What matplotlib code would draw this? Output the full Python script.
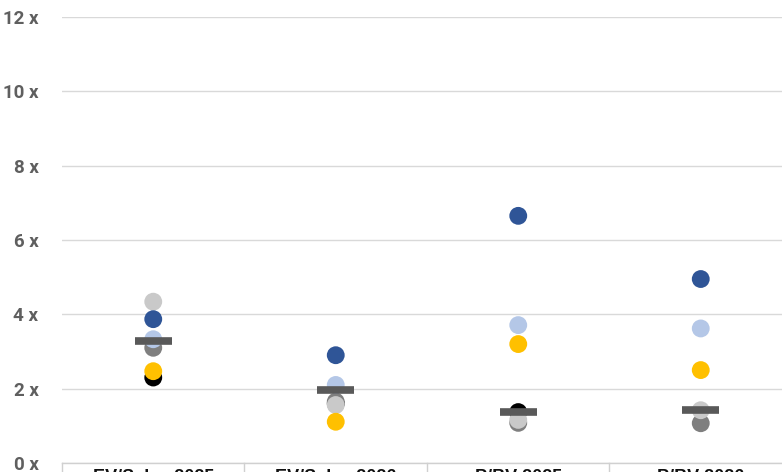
import matplotlib
matplotlib.use("Agg")
import matplotlib.pyplot as plt
import numpy as np

# Categories and peer multiples
categories = ["EV/Sales 2025", "EV/Sales 2026", "P/BV 2025", "P/BV 2026"]

black_vals = [2.30, 1.60, 1.37, np.nan]
dark_grey_vals = [3.10, 1.65, 1.08, 1.07]
light_grey_vals = [4.34, 1.56, 1.16, 1.42]
yellow_vals = [2.47, 1.11, 3.20, 2.50]
light_blue_vals = [3.33, 2.10, 3.71, 3.62]
dark_blue_vals = [3.87, 2.90, 6.65, 4.95]
median_vals = [3.27, 1.97, 1.36, 1.42]

series = [
    (black_vals, "#000000"),
    (dark_grey_vals, "#7f7f7f"),
    (light_grey_vals, "#c9c9c9"),
    (yellow_vals, "#ffc000"),
    (light_blue_vals, "#b4c7e7"),
    (dark_blue_vals, "#2f5597"),
]

fig = plt.figure(figsize=(7.82, 4.72), dpi=100)
ax = fig.add_axes([62 / 782, 9 / 472, 730 / 782, 446 / 472])

x = np.arange(len(categories)) + 0.5

for vals, color in series:
    ax.scatter(x, vals, s=165, color=color, edgecolors="none", zorder=3)

# median bars
ax.hlines(median_vals, x - 0.1, x + 0.1, colors="#595959", linewidth=5.5, zorder=4)

ax.set_xlim(0, len(categories))
ax.set_ylim(0, 12)
ax.set_yticks(range(0, 13, 2))
ax.set_yticklabels([f"{v} x" for v in range(0, 13, 2)])
ax.tick_params(axis="y", length=0, pad=17, labelsize=13.5, labelcolor="#5f5f5f")
for lbl in ax.get_yticklabels():
    lbl.set_fontfamily("Roboto")
    lbl.set_fontweight("bold")
ax.set_xticks([])

ax.grid(axis="y", color="#d9d9d9", linewidth=1)
ax.set_axisbelow(True)
for side in ["top", "right", "left"]:
    ax.spines[side].set_visible(False)
ax.spines["bottom"].set_color("#d0d0d0")
ax.spines["bottom"].set_linewidth(1)

# category boxes below the axis
for i in range(len(categories) + 1):
    ax.plot([i, i], [0, -1], color="#d0d0d0", linewidth=1, clip_on=False)
for xi, label in zip(x, categories):
    ax.text(xi, -0.16, label, ha="center", va="top", fontsize=13,
            fontweight="bold", fontfamily="Liberation Sans", color="#111111",
            clip_on=False)

fig.savefig("out.png", dpi=100)
